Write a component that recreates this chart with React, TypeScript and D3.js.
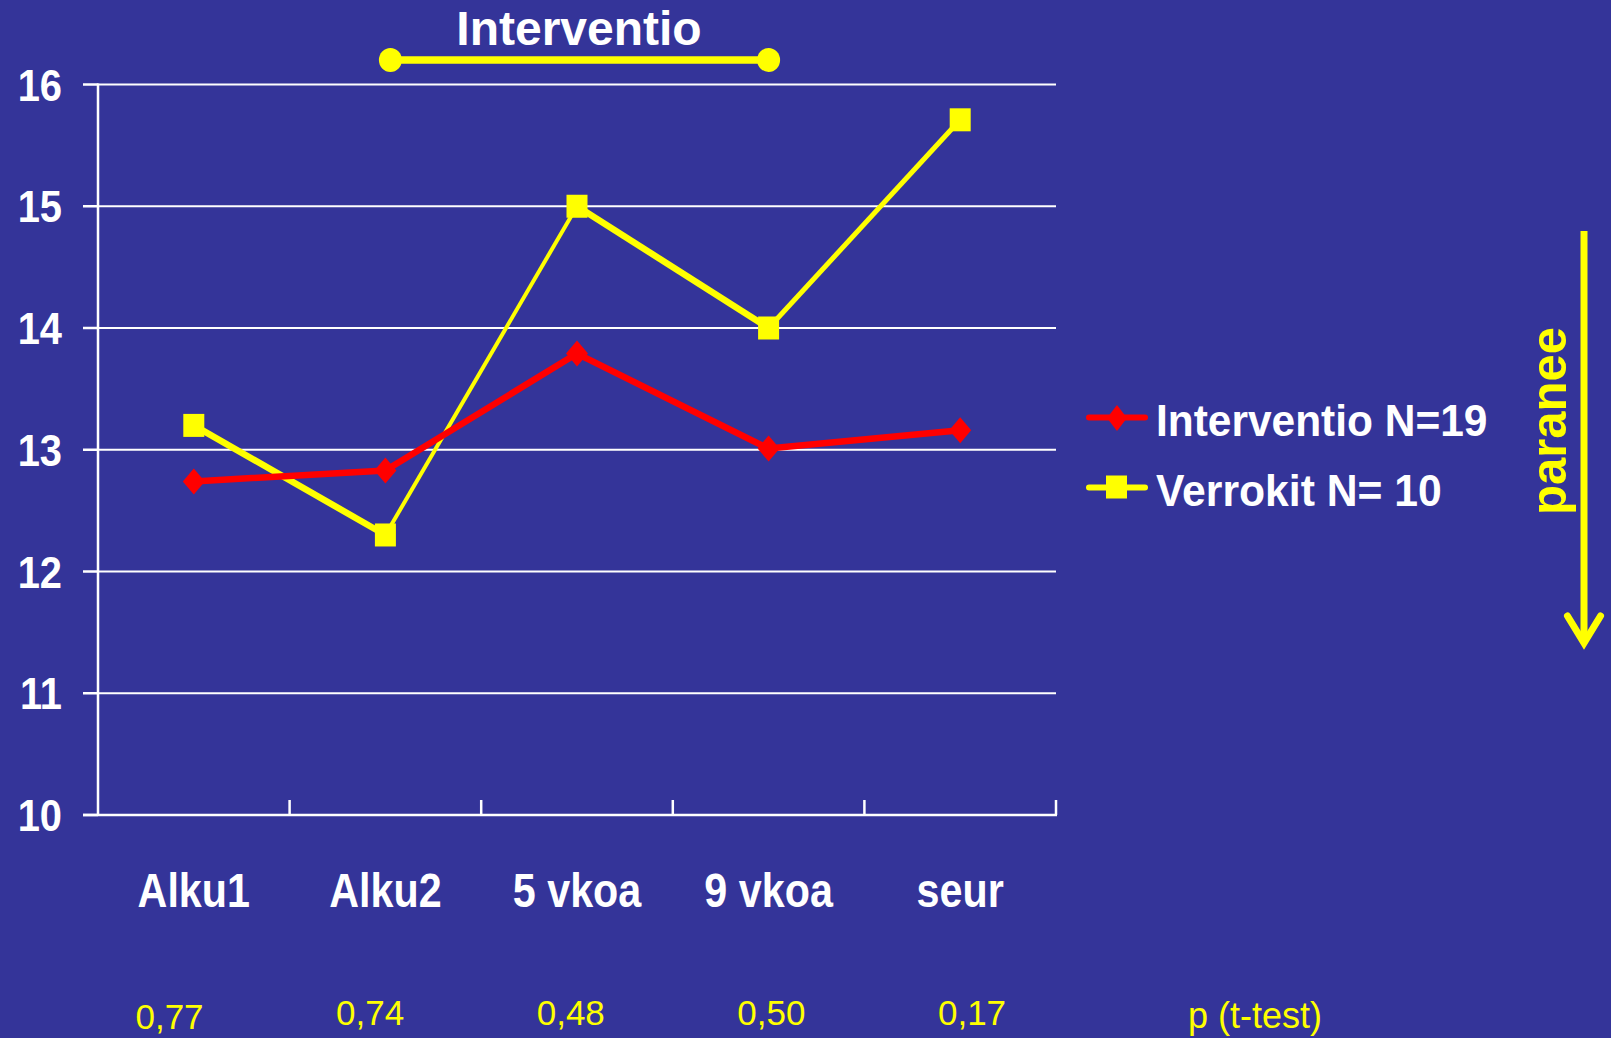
import React from "react";
import * as d3 from "d3";

const categories = ["Alku1", "Alku2", "5 vkoa", "9 vkoa", "seur"];
const interventio = [12.74, 12.83, 13.79, 13.01, 13.16];
const verrokit = [13.2, 12.3, 15.0, 14.0, 15.71];
const pValues = ["0,77", "0,74", "0,48", "0,50", "0,17"];
const yTicks = [10, 11, 12, 13, 14, 15, 16];
const seriesNames = ["Interventio N=19", "Verrokit N= 10"];
const titleText = "Interventio";
const pLabel = "p (t-test)";
const arrowLabel = "paranee";
// intervention period spans from Alku2 to 9 vkoa
const interventionSpan = ["Alku2", "9 vkoa"];

const W = 1611;
const H = 1038;
const BG = "#343499";
const YELLOW = "#FFFF00";
const RED = "#FF0000";
const WHITE = "#FFFFFF";
const FONT = "'Liberation Sans', Arial, Helvetica, sans-serif";

const yellowSegWidths = [6.5, 4, 6.5, 5];

export default function App() {
  React.useEffect(() => {
    document.body.style.margin = "0";
    document.body.style.background = BG;
  }, []);

  const x = d3.scaleBand<string>().domain(categories).range([98, 1056]).paddingInner(0).paddingOuter(0);
  const cx = (c: string) => (x(c) as number) + x.bandwidth() / 2;
  const y = d3.scaleLinear().domain([10, 16]).range([815, 84.5]);
  // p-value row is laid out on its own evenly spaced grid
  const px = d3.scalePoint<string>().domain(pValues).range([169.5, 972]);

  const redPts: [number, number][] = categories.map((c, i) => [cx(c), y(interventio[i])]);
  const yelPts: [number, number][] = categories.map((c, i) => [cx(c), y(verrokit[i])]);
  const line = d3.line();

  const diamond = (dx: number, dy: number, w = 22, h = 26) =>
    `M${dx},${dy - h / 2}L${dx + w / 2},${dy}L${dx},${dy + h / 2}L${dx - w / 2},${dy}Z`;

  const spanX0 = cx(interventionSpan[0]) + 5;
  const spanX1 = cx(interventionSpan[1]);

  return (
    <svg width={W} height={H} style={{ position: "absolute", left: 0, top: 0, display: "block" }} fontFamily={FONT}>
      <rect x={0} y={0} width={W} height={H} fill={BG} />

      {/* gridlines */}
      {yTicks.filter((t) => t > 10).map((t) => (
        <line key={"g" + t} x1={98} x2={1056} y1={y(t)} y2={y(t)} stroke={WHITE} strokeWidth={2} />
      ))}

      {/* y axis */}
      <line x1={98} x2={98} y1={y(16) - 1} y2={y(10) + 1} stroke={WHITE} strokeWidth={2.5} />
      {yTicks.map((t) => (
        <g key={"yt" + t}>
          <line x1={83} x2={98} y1={y(t)} y2={y(t)} stroke={WHITE} strokeWidth={2.5} />
          <text
            transform={`translate(62,${y(t) + 16}) scale(0.885,1)`}
            textAnchor="end"
            fontSize={45}
            fontWeight="bold"
            fill={WHITE}
          >
            {t}
          </text>
        </g>
      ))}

      {/* x axis */}
      <line x1={83} x2={1057} y1={y(10)} y2={y(10)} stroke={WHITE} strokeWidth={2.5} />
      {categories.map((c) => {
        const tx = (x(c) as number) + x.bandwidth();
        return <line key={"xt" + c} x1={tx} x2={tx} y1={y(10)} y2={y(10) - 15} stroke={WHITE} strokeWidth={2.5} />;
      })}
      {categories.map((c) => (
        <text
          key={"xl" + c}
          transform={`translate(${cx(c)},906.5) scale(0.86,1)`}
          textAnchor="middle"
          fontSize={48}
          fontWeight="bold"
          fill={WHITE}
        >
          {c}
        </text>
      ))}

      {/* p values */}
      {pValues.map((p, i) => (
        <text
          key={"p" + i}
          x={px(p) as number}
          y={i === 0 ? 1029 : 1025}
          textAnchor="middle"
          fontSize={35}
          fill={YELLOW}
        >
          {p}
        </text>
      ))}
      <text x={1255} y={1028} textAnchor="middle" fontSize={36} fill={YELLOW}>
        {pLabel}
      </text>

      {/* Verrokit series (yellow) */}
      {yelPts.slice(0, -1).map((p, i) => (
        <path
          key={"ys" + i}
          d={line([p, yelPts[i + 1]]) as string}
          stroke={YELLOW}
          strokeWidth={yellowSegWidths[i]}
          fill="none"
        />
      ))}

      {/* Interventio series (red) */}
      <path d={line(redPts) as string} stroke={RED} strokeWidth={6.5} fill="none" strokeLinejoin="round" />
      {redPts.map(([dx, dy], i) => (
        <path key={"rd" + i} d={diamond(dx, dy)} fill={RED} />
      ))}
      {yelPts.map(([dx, dy], i) => (
        <rect key={"ysq" + i} x={dx - 10.5} y={dy - 11.5} width={21} height={23} fill={YELLOW} />
      ))}

      {/* title + intervention bar */}
      <text x={579} y={45} textAnchor="middle" fontSize={48} fontWeight="bold" fill={WHITE}>
        {titleText}
      </text>
      <line x1={spanX0} x2={spanX1} y1={60} y2={60} stroke={YELLOW} strokeWidth={7.5} />
      <ellipse cx={spanX0} cy={60} rx={11.5} ry={12} fill={YELLOW} />
      <ellipse cx={spanX1} cy={60} rx={11.5} ry={12} fill={YELLOW} />

      {/* legend */}
      <line x1={1089} x2={1145} y1={417.5} y2={417.5} stroke={RED} strokeWidth={6} strokeLinecap="round" />
      <path d={diamond(1117, 418, 20, 26)} fill={RED} />
      <text
        transform="translate(1156,435.5) scale(0.965,1)"
        fontSize={44}
        fontWeight="bold"
        fill={WHITE}
      >
        {seriesNames[0]}
      </text>
      <line x1={1089} x2={1145} y1={487.5} y2={487.5} stroke={YELLOW} strokeWidth={6} strokeLinecap="round" />
      <rect x={1106} y={475.5} width={21} height={23} fill={YELLOW} />
      <text
        transform="translate(1156,505.5) scale(0.97,1)"
        fontSize={44}
        fontWeight="bold"
        fill={WHITE}
      >
        {seriesNames[1]}
      </text>

      {/* paranee arrow */}
      <text
        transform="translate(1566,421) rotate(-90) scale(0.98,1)"
        textAnchor="middle"
        fontSize={50}
        fontWeight="bold"
        fill={YELLOW}
      >
        {arrowLabel}
      </text>
      <line x1={1584} x2={1584} y1={231} y2={640} stroke={YELLOW} strokeWidth={7} />
      <polyline
        points="1567.5,616 1584,643 1600.5,616"
        fill="none"
        stroke={YELLOW}
        strokeWidth={7}
        strokeLinecap="round"
        strokeLinejoin="miter"
      />
    </svg>
  );
}
